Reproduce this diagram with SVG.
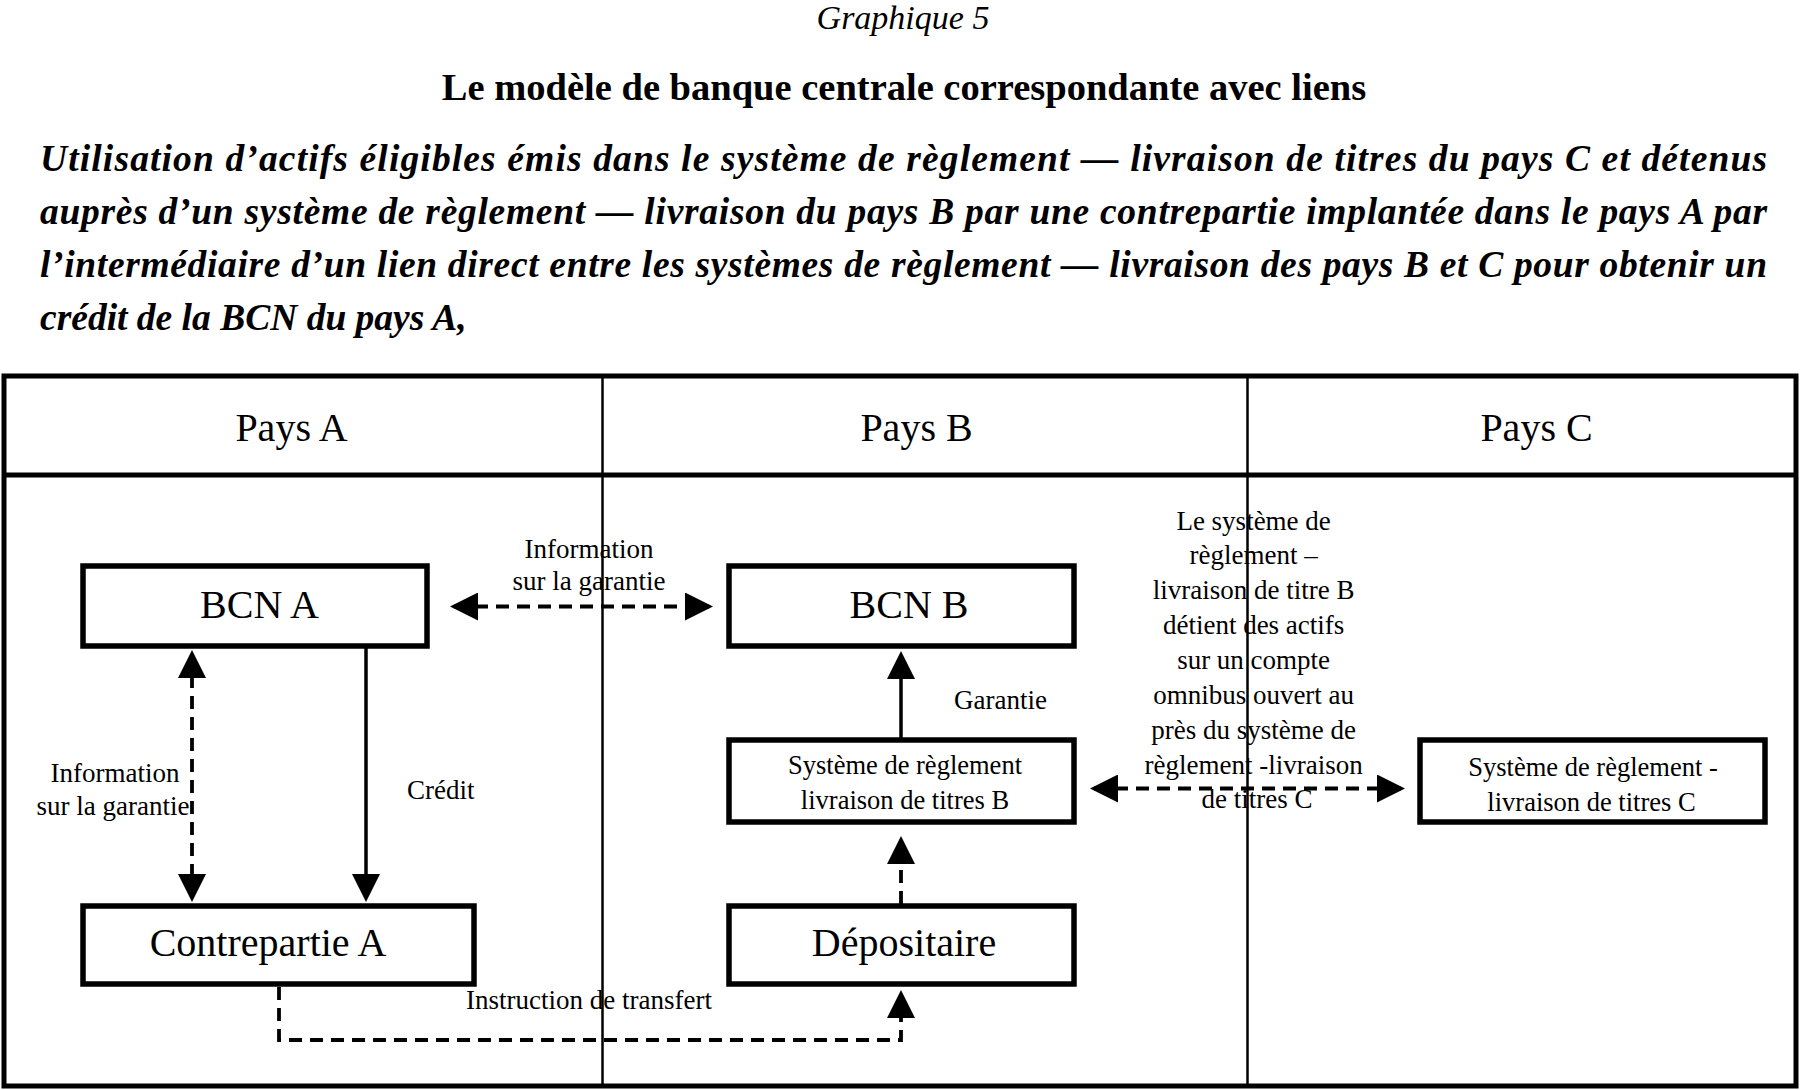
<svg xmlns="http://www.w3.org/2000/svg" width="1803" height="1090" viewBox="0 0 1803 1090">
<style>
text{font-family:"Liberation Serif","Times New Roman",serif;fill:#000}
.cap{font-size:34px;font-style:italic}
.title{font-size:38.5px;font-weight:bold}
.para{font-size:37.5px;font-weight:bold;font-style:italic}
.hdr{font-size:40px}
.big{font-size:40px}
.mid{font-size:26.5px}
.lbl{font-size:27px}
.box{fill:#fff;stroke:#000;stroke-width:5.5}
.frame{fill:none;stroke:#000;stroke-width:5}
.div{stroke:#000;stroke-width:2.5}
.solid{fill:none;stroke:#000;stroke-width:3.5}
.dash{fill:none;stroke:#000;stroke-width:3.8;stroke-dasharray:13 8}
</style>
<defs>
<marker id="ah" viewBox="0 0 28 28" refX="24" refY="14" markerWidth="28" markerHeight="28" markerUnits="userSpaceOnUse" orient="auto-start-reverse">
<path d="M0,0 L28,14 L0,28 z" fill="#000"/>
</marker>
</defs>
<rect width="1803" height="1090" fill="#fff"/>

<g id="heading">
<text class="cap" x="903" y="29" text-anchor="middle">Graphique 5</text>
<text class="title" x="904" y="100" text-anchor="middle">Le modèle de banque centrale correspondante avec liens</text>
<text class="para" x="40" y="171" textLength="1727" lengthAdjust="spacing">Utilisation d’actifs éligibles émis dans le système de règlement — livraison de titres du pays C et détenus</text>
<text class="para" x="40" y="224" textLength="1727" lengthAdjust="spacing">auprès d’un système de règlement — livraison du pays B par une contrepartie implantée dans le pays A par</text>
<text class="para" x="40" y="277" textLength="1727" lengthAdjust="spacing">l’intermédiaire d’un lien direct entre les systèmes de règlement — livraison des pays B et C pour obtenir un</text>
<text class="para" x="40" y="330">crédit de la BCN du pays A,</text>
</g>

<g id="table">
<rect class="frame" x="4" y="376" width="1792" height="710"/>
<line class="frame" x1="4" y1="475" x2="1796" y2="475"/>
<line class="div" x1="602.5" y1="376" x2="602.5" y2="1086"/>
<line class="div" x1="1247.5" y1="376" x2="1247.5" y2="1086"/>
<text class="hdr" x="291.5" y="441" text-anchor="middle">Pays A</text>
<text class="hdr" x="916.5" y="441" text-anchor="middle">Pays B</text>
<text class="hdr" x="1536.5" y="441" text-anchor="middle">Pays C</text>
</g>

<g id="connectors">
<line class="dash" x1="192" y1="654" x2="192" y2="898" marker-start="url(#ah)" marker-end="url(#ah)"/>
<line class="solid" x1="366" y1="648" x2="366" y2="898" marker-end="url(#ah)"/>
<line class="dash" x1="454" y1="606.5" x2="709" y2="606.5" marker-start="url(#ah)" marker-end="url(#ah)"/>
<line class="solid" x1="901" y1="738" x2="901" y2="655" marker-end="url(#ah)"/>
<line class="dash" x1="901" y1="904" x2="901" y2="840" marker-end="url(#ah)"/>
<line class="dash" x1="1094" y1="788.5" x2="1401" y2="788.5" marker-start="url(#ah)" marker-end="url(#ah)"/>
<path class="dash" d="M279,987 V1040 H901 V994" marker-end="url(#ah)"/>
<text class="lbl" x="589" y="558" text-anchor="middle">Information</text>
<text class="lbl" x="589" y="590" text-anchor="middle">sur la garantie</text>
<text class="lbl" x="115" y="782" text-anchor="middle">Information</text>
<text class="lbl" x="113" y="815" text-anchor="middle">sur la garantie</text>
<text class="lbl" x="407" y="799">Crédit</text>
<text class="lbl" x="954" y="709">Garantie</text>
<text class="lbl" x="466" y="1009">Instruction de transfert</text>
<text class="lbl" text-anchor="middle">
<tspan x="1257" y="529.5">Le système de</tspan>
<tspan x="1257" y="564.4">règlement –</tspan>
<tspan x="1257" y="599.2">livraison de titre B</tspan>
<tspan x="1257" y="634">détient des actifs</tspan>
<tspan x="1257" y="668.9">sur un compte</tspan>
<tspan x="1257" y="703.8">omnibus ouvert au</tspan>
<tspan x="1257" y="738.6">près du système  de</tspan>
<tspan x="1257" y="773.5">règlement -livraison</tspan>
<tspan x="1257" y="808.4">de titres C</tspan>
</text>
</g>

<g id="bcn-a">
<rect class="box" x="83" y="566" width="344" height="80"/>
<text class="big" x="259.5" y="618" text-anchor="middle">BCN A</text>
</g>
<g id="contrepartie-a">
<rect class="box" x="83" y="906" width="391" height="78"/>
<text class="big" x="268" y="955.5" text-anchor="middle">Contrepartie A</text>
</g>
<g id="bcn-b">
<rect class="box" x="729" y="566" width="345" height="80"/>
<text class="big" x="909" y="618" text-anchor="middle">BCN B</text>
</g>
<g id="sr-b">
<rect class="box" x="729" y="740" width="345" height="82"/>
<text class="mid" x="905" y="774" text-anchor="middle">Système de règlement</text>
<text class="mid" x="905" y="808.5" text-anchor="middle">livraison de titres B</text>
</g>
<g id="depositaire">
<rect class="box" x="729" y="906" width="345" height="78"/>
<text class="big" x="904" y="955.5" text-anchor="middle">Dépositaire</text>
</g>
<g id="sr-c">
<rect class="box" x="1420" y="740" width="345" height="82"/>
<text class="mid" x="1593" y="776" text-anchor="middle">Système de règlement -</text>
<text class="mid" x="1591.5" y="811" text-anchor="middle">livraison de titres C</text>
</g>
</svg>
